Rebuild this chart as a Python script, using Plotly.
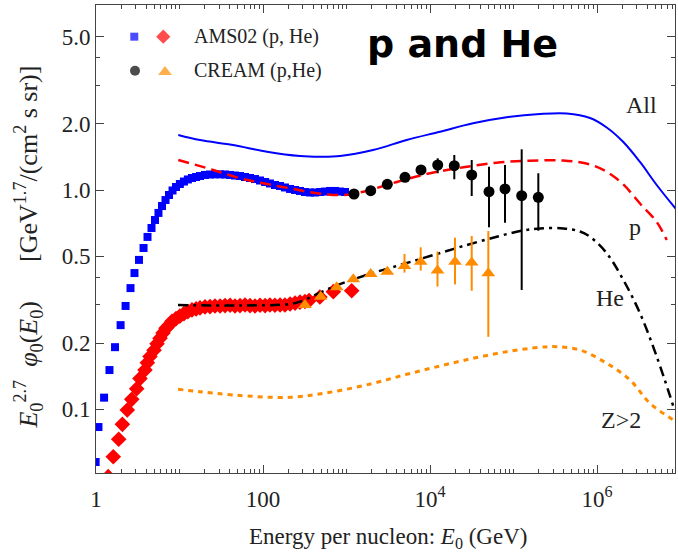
import plotly.graph_objects as go

# ---------------- data ----------------
# AMS02 protons (blue squares)
ams_p_E = [0.99, 1.07, 1.25, 1.45, 1.69, 1.97, 2.26, 2.59, 2.89, 3.27,
           3.71, 4.14, 4.62, 5.09, 5.60, 6.17, 6.80, 7.49, 8.25, 9.08,
           10.1, 11.3, 12.6, 14.1, 15.8, 17.6, 20.2, 23.2, 26.6, 30.6,
           35.1, 40.3, 46.2, 53.0, 60.9, 69.9, 80.2, 92.1, 106, 121,
           139, 160, 183, 211, 242, 277, 318, 366, 420, 482,
           553, 635, 729, 836, 959]
ams_p_F = [0.0575, 0.0830, 0.113, 0.151, 0.192, 0.242, 0.296, 0.357, 0.418, 0.480,
           0.544, 0.611, 0.671, 0.730, 0.786, 0.845, 0.900, 0.949, 0.995, 1.032,
           1.065, 1.093, 1.117, 1.134, 1.146, 1.158, 1.171, 1.177, 1.179, 1.179,
           1.177, 1.171, 1.164, 1.158, 1.146, 1.134, 1.122, 1.105, 1.088, 1.071,
           1.054, 1.043, 1.027, 1.011, 1.000, 0.990, 0.979, 0.974, 0.974, 0.979,
           0.984, 0.990, 0.990, 0.984, 0.979]

# AMS02 helium (red diamonds)
ams_he_E = [1.40, 1.61, 1.87, 2.07, 2.37, 2.68, 3.07, 3.36, 3.86, 4.12,
            4.43, 4.95, 5.38, 5.84, 6.35, 6.89, 7.49, 8.13, 9.08, 10.1,
            11.3, 12.6, 14.1, 15.8, 17.6, 20.2, 23.2, 26.6, 30.6, 35.1,
            40.3, 46.2, 53.0, 60.9, 69.9, 80.2, 92.1, 106, 121, 139,
            160, 183, 211, 242, 277, 318, 356, 480, 695, 1154]
ams_he_F = [0.0493, 0.0608, 0.0730, 0.0854, 0.0993, 0.111, 0.124, 0.138, 0.151, 0.163,
            0.174, 0.186, 0.199, 0.211, 0.223, 0.234, 0.242, 0.252, 0.259, 0.266,
            0.273, 0.279, 0.284, 0.287, 0.290, 0.293, 0.294, 0.296, 0.296, 0.297,
            0.298, 0.296, 0.297, 0.299, 0.297, 0.296, 0.298, 0.297, 0.299, 0.298,
            0.299, 0.299, 0.302, 0.305, 0.308, 0.310, 0.313, 0.325, 0.344, 0.347]

# CREAM protons (black circles)
cream_p_E = [1229, 1949, 3081, 5019, 7802, 12370, 19540, 31580, 50900, 79070, 125300, 198200]
cream_p_F = [0.959, 0.993, 1.062, 1.143, 1.234, 1.300, 1.291, 1.171, 0.982, 1.011, 0.942, 0.926]
cream_p_up = [0, 0, 0, 0.02, 0.03, 0.095, 0.153, 0.199, 0.295, 0.289, 0.591, 0.266]
cream_p_dn = [0, 0, 0, 0.02, 0.03, 0.108, 0.172, 0.232, 0.306, 0.302, 0.592, 0.274]

# CREAM helium (orange triangles)
cream_he_E = [318, 491, 763, 1206, 1949, 3081, 4950, 7738, 12300, 19930, 31580, 49930]
cream_he_F = [0.299, 0.326, 0.360, 0.392, 0.414, 0.424, 0.450, 0.471, 0.430, 0.471, 0.467, 0.417]
cream_he_up = [0, 0, 0, 0, 0, 0, 0.061, 0.077, 0.094, 0.135, 0.150, 0.233]
cream_he_dn = [0, 0, 0, 0, 0, 0, 0.030, 0.042, 0.067, 0.100, 0.120, 0.203]

# Model curves
all_E = [9.67, 17.6, 43.7, 111.6, 277.4, 481.6, 836, 2077, 5260, 13180, 32730, 82900,
         207700, 433700, 824600, 1.307e6, 2.065e6, 3.273e6, 5.188e6, 9.0e6]
all_F = [1.782, 1.690, 1.604, 1.495, 1.429, 1.419, 1.429, 1.522, 1.690, 1.845, 2.015, 2.146,
         2.222, 2.234, 2.129, 1.928, 1.655, 1.342, 1.054, 0.811]

p_E = [9.67, 25.4, 53.0, 100.8, 210.6, 439.7, 915.6, 1589, 3992, 10000, 25050, 62930,
       157600, 394900, 824600, 1.307e6, 2.065e6, 3.273e6, 5.188e6, 6.833e6]
p_F = [1.370, 1.234, 1.131, 1.073, 1.018, 0.966, 0.949, 0.982, 1.088, 1.192, 1.269, 1.332,
       1.360, 1.363, 1.307, 1.212, 1.060, 0.868, 0.715, 0.592]

he_E = [9.6, 53, 210.6, 277.4, 695, 1745, 4373, 10950, 27520, 62930, 125300, 207700,
        394900, 626000, 824600, 1.307e6, 2.065e6, 3.273e6, 5.188e6, 8.22e6]
he_F = [0.299, 0.2974, 0.302, 0.3095, 0.362, 0.410, 0.455, 0.505, 0.561, 0.612, 0.652, 0.668,
        0.668, 0.647, 0.612, 0.515, 0.389, 0.274, 0.174, 0.103]

z_E = [9.6, 17.6, 44.1, 210.6, 695, 2094, 5260, 13180, 33000, 82900, 207700, 329200,
       626000, 1.307e6, 2.485e6, 4.312e6, 8.22e6, 9.86e6]
z_F = [0.1234, 0.1203, 0.1162, 0.1134, 0.1203, 0.1314, 0.1444, 0.1576, 0.1709, 0.1831, 0.1917, 0.1930,
       0.1864, 0.1621, 0.1360, 0.1065, 0.0894, 0.0857]

x_tick_vals = [1, 100, 1e4, 1e6]
x_tick_text = ['1', '100', '10<sup>4</sup>', '10<sup>6</sup>']
y_tick_vals = [0.1, 0.2, 0.5, 1, 2, 5]
y_tick_text = ['0.1', '0.2', '0.5', '1.0', '2.0', '5.0']

# ---------------- styles ----------------
BLUE = '#0000FF'
RED = '#FF0000'
ORANGE = '#FF8C00'
BLACK = '#000000'
AXIS = '#444444'
SERIF = 'Liberation Serif, Times New Roman, serif'

fig = go.Figure()

fig.add_trace(go.Scatter(x=ams_p_E, y=ams_p_F, mode='markers',
                         marker=dict(symbol='square', size=8, color=BLUE, line=dict(width=0))))
fig.add_trace(go.Scatter(x=ams_he_E, y=ams_he_F, mode='markers',
                         marker=dict(symbol='diamond', size=12, color=RED, line=dict(width=0))))

fig.add_trace(go.Scatter(x=all_E, y=all_F, mode='lines', line=dict(color=BLUE, width=2, shape='spline')))
fig.add_trace(go.Scatter(x=p_E, y=p_F, mode='lines',
                         line=dict(color=RED, width=2.5, dash='11px,6px', shape='spline')))
fig.add_trace(go.Scatter(x=he_E, y=he_F, mode='lines',
                         line=dict(color=BLACK, width=2.5, dash='10px,5px,3px,5px', shape='spline')))
fig.add_trace(go.Scatter(x=z_E, y=z_F, mode='lines',
                         line=dict(color=ORANGE, width=3, dash='5px,5px', shape='spline')))

fig.add_trace(go.Scatter(x=cream_he_E, y=cream_he_F, mode='markers',
                         marker=dict(symbol='triangle-up', size=12, color=ORANGE, line=dict(width=0)),
                         error_y=dict(type='data', symmetric=False, array=cream_he_up,
                                      arrayminus=cream_he_dn, color=ORANGE, thickness=2, width=0)))
fig.add_trace(go.Scatter(x=cream_p_E, y=cream_p_F, mode='markers',
                         marker=dict(symbol='circle', size=11, color=BLACK, line=dict(width=0)),
                         error_y=dict(type='data', symmetric=False, array=cream_p_up,
                                      arrayminus=cream_p_dn, color=BLACK, thickness=2, width=0)))

# legend keys (on an overlay axis spanning the plot area, 0..1)
fig.add_trace(go.Scatter(x=[0.0661, 0.1162], y=[0.9323, 0.9323], mode='markers', xaxis='x2', yaxis='y2',
                         marker=dict(symbol=['square', 'diamond'], size=[8, 11], color=[BLUE, RED],
                                     line=dict(width=0))))
fig.add_trace(go.Scatter(x=[0.0674, 0.1192], y=[0.8596, 0.8568], mode='markers', xaxis='x2', yaxis='y2',
                         marker=dict(symbol=['circle', 'triangle-up'], size=[10, 12], color=[BLACK, ORANGE],
                                     line=dict(width=0))))

minor_x = [m * 10 ** k for k in range(0, 7) for m in range(2, 11) if m * 10 ** k not in x_tick_vals]
minor_y = [0.3, 0.4, 3, 4]

fig.update_layout(
    width=678, height=556,
    margin=dict(l=96, r=3, t=5, b=83),
    paper_bgcolor='white', plot_bgcolor='white',
    showlegend=False,
    font=dict(family=SERIF, size=23, color='#222222'),
    xaxis=dict(type='log', range=[0, 6.934], tickvals=x_tick_vals, ticktext=x_tick_text,
               ticks='inside', ticklen=8, tickwidth=1, tickcolor=AXIS,
               showline=True, linecolor=AXIS, linewidth=1, mirror='ticks',
               showgrid=False, zeroline=False, ticklabelstandoff=5,
               minor=dict(ticks='inside', ticklen=4, tickcolor=AXIS, tickvals=minor_x, showgrid=False)),
    yaxis=dict(type='log', range=[-1.2905, 0.8436], tickvals=y_tick_vals, ticktext=y_tick_text,
               ticks='inside', ticklen=8, tickwidth=1, tickcolor=AXIS,
               showline=True, linecolor=AXIS, linewidth=1, mirror='ticks',
               showgrid=False, zeroline=False,
               minor=dict(ticks='inside', ticklen=4, tickcolor=AXIS, tickvals=minor_y, showgrid=False)),
    xaxis2=dict(overlaying='x', range=[0, 1], visible=False, anchor='y2'),
    yaxis2=dict(overlaying='y', range=[0, 1], visible=False, anchor='x2'),
)

ann = []
ann.append(dict(text='<b>p and He</b>', x=0.633, y=0.9167, xref='paper', yref='paper',
                xanchor='center', yanchor='middle', showarrow=False,
                font=dict(family='DejaVu Sans', size=38, color='#000000')))
ann.append(dict(text='AMS02 (p, He)', x=0.1653, y=0.9323, xref='paper', yref='paper',
                xanchor='left', yanchor='middle', showarrow=False, font=dict(size=20)))
ann.append(dict(text='CREAM (p,He)', x=0.1653, y=0.8596, xref='paper', yref='paper',
                xanchor='left', yanchor='middle', showarrow=False, font=dict(size=20)))
ann.append(dict(text='Energy per nucleon: <i>E</i><sub>0</sub> (GeV)', x=0.5035, y=-0.1389,
                xref='paper', yref='paper', xanchor='center', yanchor='middle', showarrow=False,
                font=dict(size=23)))
ann.append(dict(text='<i>E</i><sub>0</sub><sup>2.7</sup>  <i>φ</i><sub>0</sub>(<i>E</i><sub>0</sub>)'
                     '      [GeV<sup>1.7</sup>/(cm<sup>2</sup> s sr)]',
                x=-0.1174, y=0.4818, xref='paper', yref='paper', xanchor='center', yanchor='middle',
                textangle=-90, showarrow=False, font=dict(size=26)))
for txt, xx, yy in [('All', 0.9413, 0.7863), ('p', 0.9309, 0.5263), ('He', 0.8877, 0.3739), ('Z&gt;2', 0.9067, 0.1132)]:
    ann.append(dict(text=txt, x=xx, y=yy, xref='paper', yref='paper', xanchor='center', yanchor='middle',
                    showarrow=False, font=dict(size=24)))
fig.update_layout(annotations=ann)

fig.write_html('out.html', config={'displayModeBar': False},
               post_script="document.body.style.margin='0px';document.body.style.padding='0px';")
